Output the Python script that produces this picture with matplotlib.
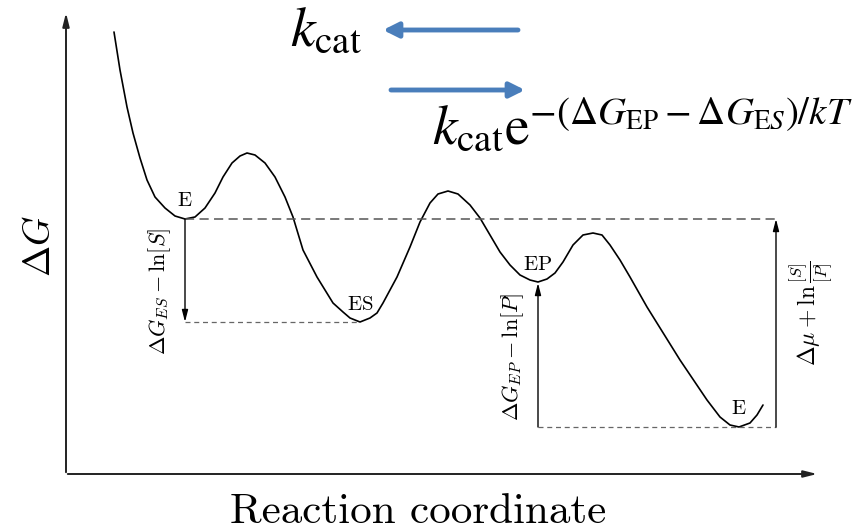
import matplotlib.pyplot as plt

plt.rcParams['mathtext.fontset'] = 'cm'
plt.rcParams['font.family'] = 'DejaVu Serif'

# free energy profile (reaction coordinate, dG)
rc = [48, 54, 61, 67, 74, 81, 89, 99, 109, 119, 129, 139, 149, 157, 166, 174,
      181, 189, 199, 209, 219, 227, 237, 251, 267, 277, 284, 294, 304, 311,
      317, 331, 344, 354, 364, 372, 382, 392, 404, 414, 424, 434, 444, 454,
      464, 472, 481, 489, 497, 507, 517, 527, 536, 544, 554, 564, 581, 614,
      641, 654, 664, 673, 684, 691, 697]
dg = [442, 404, 367, 341, 316, 294, 277, 266, 258, 255, 257, 266, 281, 297, 311, 318,
      321, 319, 311, 297, 277, 257, 224, 197, 171, 162, 156, 152, 156, 161,
      171, 197, 227, 252, 271, 280, 283, 280, 269, 256, 239, 222, 209, 199,
      194, 192, 195, 201, 212, 229, 239, 241, 239, 229, 214, 197, 167, 114,
      74, 57, 49, 47, 51, 59, 69]

# states (minima)
state_names = ['E', 'ES', 'EP', 'E']
state_x = [119, 294, 472, 673]
state_g = [255, 152, 191, 47]
right_x = 710

fig = plt.figure(figsize=(8.62, 5.32), dpi=100)
ax = fig.add_axes([66 / 862, 58 / 532, 754 / 862, 464 / 532])
ax.set_xlim(0, 754)
ax.set_ylim(0, 464)
ax.axis('off')

# axes with arrow heads
ax.annotate('', xy=(754, 0), xytext=(-1, 0),
            arrowprops=dict(arrowstyle='-|>,head_length=0.8,head_width=0.2', lw=1.4, color='#222222'))
ax.annotate('', xy=(0, 464), xytext=(0, -1),
            arrowprops=dict(arrowstyle='-|>,head_length=0.8,head_width=0.2', lw=1.4, color='#222222'))

ax.plot(rc, dg, color='black', lw=1.2, solid_capstyle='round', solid_joinstyle='round')

# reference levels
ax.plot([state_x[0], right_x], [state_g[0], state_g[0]], ls=(0, (6, 3.5)), color='#555555', lw=1.1)
ax.plot([state_x[0], state_x[1]], [state_g[1], state_g[1]], ls=(0, (4, 3)), color='#666666', lw=0.9)
ax.plot([state_x[2], right_x], [state_g[3], state_g[3]], ls=(0, (4, 3)), color='#666666', lw=0.9)

arr = dict(arrowstyle='-|>,head_length=0.7,head_width=0.18', lw=1.0, color='black',
           shrinkA=0, shrinkB=0)
ax.annotate('', xy=(state_x[0], state_g[1]), xytext=(state_x[0], state_g[0]), arrowprops=arr)
ax.annotate('', xy=(state_x[2], state_g[2]), xytext=(state_x[2], state_g[3]), arrowprops=arr)
ax.annotate('', xy=(right_x, state_g[0]), xytext=(right_x, state_g[3]), arrowprops=arr)

for name, x, g in zip(state_names, state_x, state_g):
    ax.text(x, g + 18, r'$\mathrm{%s}$' % name, fontsize=15, ha='center', va='center')

ax.text(94, 183, r'$\Delta G_{ES} - \ln[S]$', fontsize=16, rotation=90, ha='center', va='center')
ax.text(447, 117, r'$\Delta G_{EP} - \ln[P]$', fontsize=16, rotation=90, ha='center', va='center')
ax.text(745, 161, r'$\Delta\mu + \ln\frac{[S]}{[P]}$', fontsize=17, rotation=90, ha='center', va='center')

ax.text(-26, 228, r'$\Delta G$', fontsize=27, rotation=90, ha='center', va='center')
ax.text(352, -49, 'Reaction coordinate', fontsize=31, family='cmr10', ha='center', va='baseline')

# rates
blue = '#4a7ebb'
ax.annotate('', xy=(317, 444), xytext=(452, 444),
            arrowprops=dict(arrowstyle='-|>,head_length=0.9,head_width=0.45', lw=3.5, color=blue,
                            shrinkA=0, shrinkB=0))
ax.annotate('', xy=(459, 384), xytext=(325, 384),
            arrowprops=dict(arrowstyle='-|>,head_length=0.9,head_width=0.45', lw=3.5, color=blue,
                            shrinkA=0, shrinkB=0))
ax.text(260, 444, r'$k_{\mathrm{cat}}$', fontsize=40, ha='center', va='center', math_fontfamily='stix')
ax.text(576, 347, r'$k_{\mathrm{cat}}\mathrm{e}^{-(\Delta G_{\mathrm{EP}}-\Delta G_{\mathrm{E}S})/kT}$',
        fontsize=40, ha='center', va='center', math_fontfamily='stix')

fig.savefig('out.png', dpi=100)
